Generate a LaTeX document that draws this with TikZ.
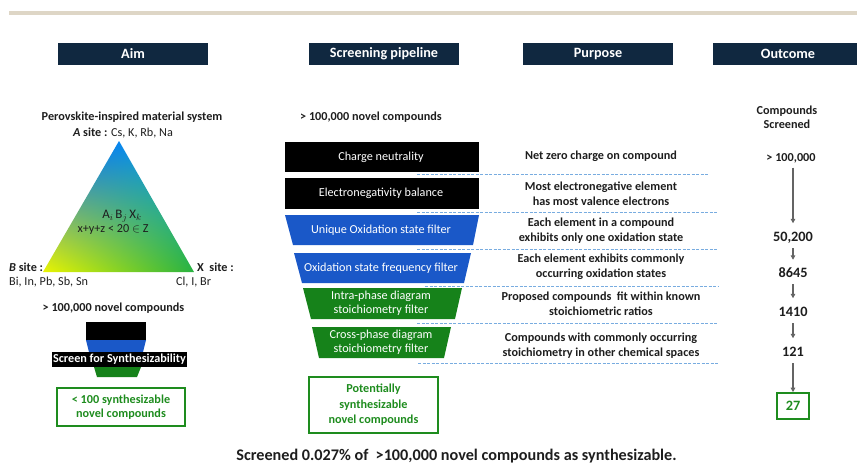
\documentclass[tikz,border=0pt]{standalone}
\usepackage{fontspec}
\setmainfont{Carlito}
\usetikzlibrary{arrows.meta,shadings}
\definecolor{navy}{RGB}{16,40,64}
\definecolor{barTan}{RGB}{222,214,198}
\definecolor{funBlue}{RGB}{26,88,200}
\definecolor{funGreen}{RGB}{22,130,26}
\definecolor{txtGreen}{RGB}{30,140,30}
\definecolor{sepBlue}{RGB}{120,172,224}
\definecolor{txtDark}{RGB}{30,30,30}
\definecolor{arrGray}{RGB}{100,100,100}
\definecolor{triBlue}{RGB}{10,100,250}
\definecolor{triTeal}{RGB}{0,165,235}
\definecolor{triYellow}{RGB}{235,245,0}
\definecolor{triGreen}{RGB}{40,178,64}
\begin{document}
\begin{tikzpicture}[x=1pt,y=-1pt,
  hdr/.style={fill=navy,text=white,font=\fontsize{14.2}{16}\selectfont\bfseries,
    minimum width=150pt,minimum height=22pt,inner sep=0pt},
  lbl/.style={text=txtDark,font=\fontsize{12.2}{14}\selectfont,inner sep=0pt},
  blbl/.style={lbl,font=\fontsize{12.2}{14}\selectfont\bfseries},
  purp/.style={text=txtDark,font=\fontsize{12.2}{15}\selectfont\bfseries,align=center,inner sep=0pt},
  stage/.style={text=white,font=\fontsize{12.2}{14}\selectfont,align=center,inner sep=0pt},
  gbox/.style={draw=txtGreen,line width=1.6pt,text=txtGreen,align=center,
    font=\fontsize{12.2}{14}\selectfont\bfseries,inner sep=0pt},
  num/.style={text=txtDark,font=\fontsize{14.3}{16}\selectfont\bfseries,inner sep=0pt,
    text height=9pt,text depth=0pt},
  sep/.style={sepBlue,line width=0.9pt,dash pattern=on 3pt off 1.5pt},
  arr/.style={arrGray,line width=1.3pt,-{Triangle[length=4.5pt,width=4.5pt]}}]
\useasboundingbox (0,0) rectangle (857,464);

% Top bar and column headers
\fill[barTan] (9,11) rectangle (857,15);
\node[hdr] (aim) at (133,54) {Aim};
\node[hdr] (pipeline) at (384,54) {Screening pipeline};
\node[hdr] (purpose) at (598,54) {Purpose};
\node[hdr] (outcome) at (788,54) {Outcome};

% Material system triangle
\coordinate (siteA) at (119,141);
\coordinate (siteB) at (43,272);
\coordinate (siteX) at (194,272);
\shade[upper left=triBlue,upper right=triTeal,lower left=triYellow,lower right=triGreen]
  (siteA) -- (siteB) -- (siteX) -- cycle;
\node[blbl] (system) at (132,117) {Perovskite-inspired material system};
\node[lbl] (labA) at (123,133) {\textbf{\textit{A} site :} Cs, K, Rb, Na};
\node[blbl,anchor=west] (labB) at (9,267) {\textit{B} site :};
\node[lbl,anchor=west] (elB) at (9,282) {Bi, In, Pb, Sb, Sn};
\node[blbl,anchor=west] (labX) at (197,267) {X\ \ site :};
\node[lbl,anchor=west] (elX) at (176,282) {Cl, I, Br};
\node[lbl,font=\fontsize{13}{15}\selectfont] (formula) at (122,216) {$\mathrm{A}_i\,\mathrm{B}_j\,\mathrm{X}_k$};
\node[lbl] (cond) at (113,230) {x+y+z < 20 $\in$ Z};

% Small funnel of the aim
\node[blbl] (aimin) at (113.5,308) {> 100,000 novel compounds};
\fill[black] (86,322) rectangle (146,340);
\fill[funBlue] (86,340) -- (146,340) -- (143,352) -- (89,352) -- cycle;
\fill[funGreen] (94,367) -- (141,367) -- (137,377) -- (97,377) -- cycle;
\node[fill=black,text=white,font=\fontsize{12.2}{14}\selectfont\bfseries,inner sep=0pt,
  minimum width=135pt,minimum height=15pt] (screen) at (119.5,359.5) {Screen for Synthesizability};
\node[gbox,minimum width=128pt,minimum height=38pt] (aimout) at (121,407) {< 100 synthesizable\\novel compounds};

% Separators between the filters
\foreach \y/\xs/\xe in {174/417/708,212/417/718,249/417/718,286/425/718,323/417/718,363/418/718}
  \draw[sep] (\xs,\y) -- (\xe,\y);

% Screening funnel
\node[blbl] (pipein) at (371,117) {> 100,000 novel compounds};
\foreach \ya/\yb/\xa/\xb/\xc/\xd/\col/\txt [count=\i] in {
  142/172/285/479/285/479/black/{Charge neutrality},
  178/209/285/479/285/479/black/{Electronegativity balance},
  215/245/285/479/293/473/funBlue/{Unique Oxidation state filter},
  253/283/294/471/302/464/funBlue/{Oxidation state frequency filter},
  288/319/303/462/311/455/funGreen/{Intra-phase diagram\\stoichiometry filter},
  327/358/312/451/319/444/funGreen/{Cross-phase diagram\\stoichiometry filter}}{
  \fill[\col] (\xa,\ya) -- (\xb,\ya) -- (\xd,\yb) -- (\xc,\yb) -- cycle;
  \node[stage] (stage\i) at (381,{(\ya+\yb)/2}) {\txt};
}
\node[gbox,font=\fontsize{12.2}{15.5}\selectfont\bfseries,minimum width=129pt,minimum height=56pt]
  (pipeout) at (373.5,405) {Potentially\\synthesizable\\novel compounds};

% Purpose of each filter
\foreach \y/\txt [count=\i] in {
  156/{Net zero charge on compound},
  194/{Most electronegative element\\has most valence electrons},
  230.5/{Each element in a compound\\exhibits only one oxidation state},
  266.5/{Each element exhibits commonly\\occurring oxidation states},
  304/{Proposed compounds\ \ fit within known\\stoichiometric ratios},
  345.5/{Compounds with commonly occurring\\stoichiometry in other chemical spaces}}
  \node[purp] (purp\i) at (601,\y) {\txt};

% Outcome counts
\node[purp,font=\fontsize{12.2}{14}\selectfont\bfseries] (screened) at (787,117) {Compounds\\Screened};
\node[purp,text height=8pt,text depth=0pt] (c0) at (791,157) {> 100,000};
\node[num] (c1) at (793,237) {50,200};
\node[num] (c2) at (793,273) {8645};
\node[num] (c3) at (793,312) {1410};
\node[num] (c4) at (793,352) {121};
\node[gbox,font=\fontsize{14.3}{16}\selectfont\bfseries,minimum width=32pt,minimum height=26pt] (c5) at (793,406) {27};
\foreach \a/\b/\s in {c0/c1/9,c1/c2/8.5,c2/c3/9,c3/c4/9,c4/c5/0}
  \draw[arr,shorten <=6.5pt,shorten >=\s pt] (\a.south -| c1) -- (\b.north -| c1);

% Summary
\node[text=txtDark,font=\fontsize{16.2}{18}\selectfont\bfseries,inner sep=0pt] (summary) at (456.5,456)
  {Screened 0.027\% of\ \ >100,000 novel compounds as synthesizable.};
\end{tikzpicture}
\end{document}
